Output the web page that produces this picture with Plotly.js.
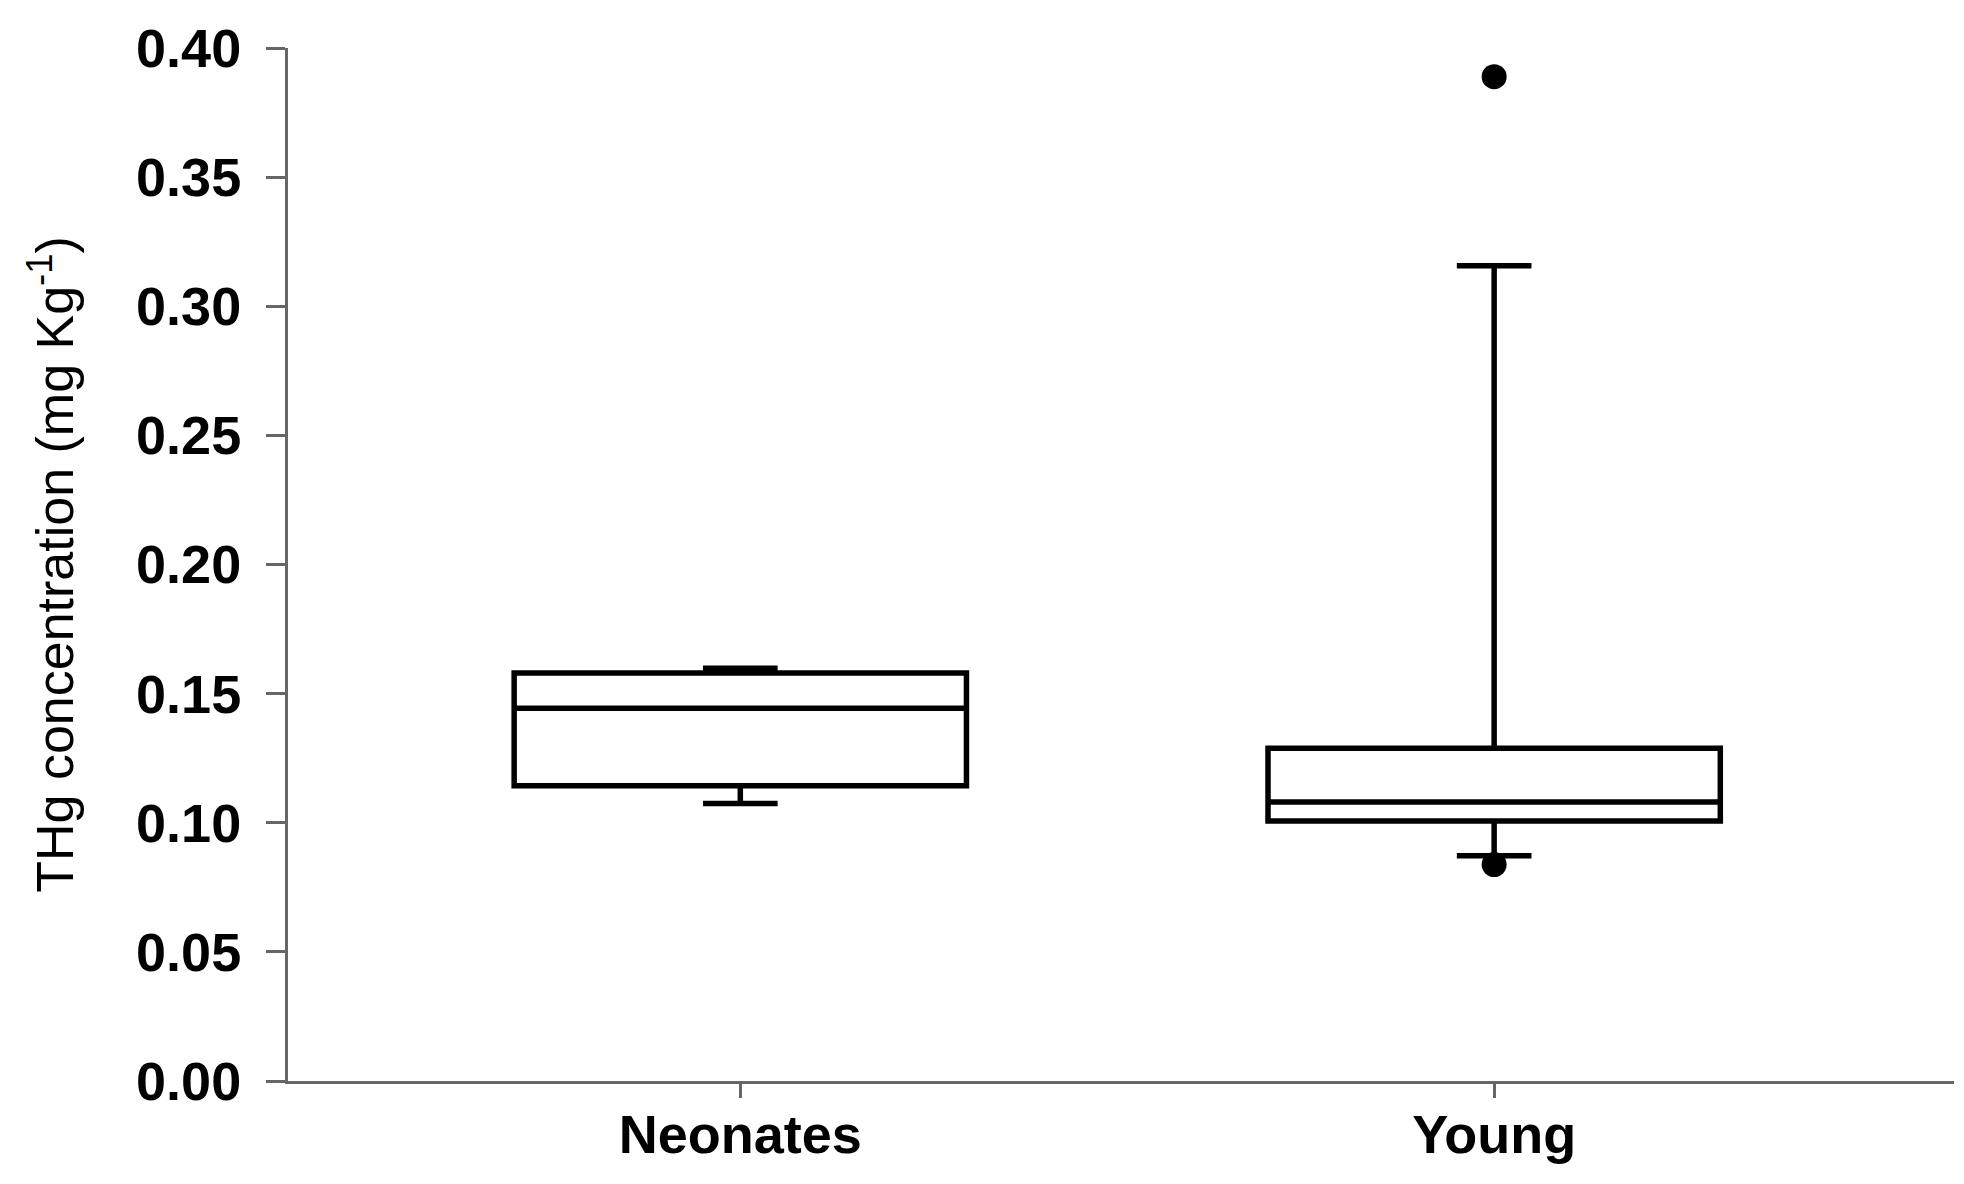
<!DOCTYPE html>
<html>
<head>
<meta charset="utf-8">
<script src="https://cdn.plot.ly/plotly-3.0.1.min.js"></script>
<style>
  html, body { margin: 0; padding: 0; background: #fff; }
  #chart { width: 1964px; height: 1184px; }
</style>
</head>
<body>
<div id="chart"></div>
<script>
// THg concentration by age class
const groups = ['Neonates', 'Young'];
const q1 = [0.1143, 0.1007];
const medians = [0.1443, 0.1080];
const q3 = [0.1580, 0.1288];
const lowerFence = [0.1075, 0.0872];
const upperFence = [0.1598, 0.3157];

// points beyond the whiskers
const outlierGroups = ['Young', 'Young'];
const outlierValues = [0.3889, 0.0838];

const yTicks = [0, 0.05, 0.10, 0.15, 0.20, 0.25, 0.30, 0.35, 0.40];

const boxTrace = {
    type: 'box',
    x: groups,
    q1: q1,
    median: medians,
    q3: q3,
    lowerfence: lowerFence,
    upperfence: upperFence,
    boxpoints: false,
    width: 0.6,
    whiskerwidth: 0.165,
    fillcolor: '#ffffff',
    line: { color: '#000000', width: 5.5 },
    hoverinfo: 'skip',
    showlegend: false
};

const outlierTrace = {
    type: 'scatter',
    mode: 'markers',
    x: outlierGroups,
    y: outlierValues,
    marker: { color: '#000000', size: 25 },
    hoverinfo: 'skip',
    showlegend: false
};

const labelFont = { family: '"Liberation Sans", Arial, sans-serif', size: 54, weight: 'bold', color: '#000000' };

const layout = {
    width: 1964,
    height: 1184,
    paper_bgcolor: '#ffffff',
    plot_bgcolor: '#ffffff',
    margin: { t: 48, r: 10, b: 103, l: 288 },
    font: { family: '"Liberation Sans", Arial, sans-serif', color: '#000000' },
    xaxis: {
        type: 'category',
        range: [-0.6, 1.61],
        showgrid: false,
        zeroline: false,
        showline: true,
        linecolor: '#666666',
        linewidth: 3,
        ticks: 'outside',
        ticklen: 14,
        tickwidth: 3,
        tickcolor: '#666666',
        ticklabelstandoff: -10,
        tickfont: labelFont
    },
    yaxis: {
        range: [0, 0.40],
        tickvals: yTicks,
        tickformat: '.2f',
        showgrid: false,
        zeroline: false,
        showline: true,
        linecolor: '#666666',
        linewidth: 3,
        ticks: 'outside',
        ticklen: 19,
        tickwidth: 3,
        tickcolor: '#666666',
        ticklabelstandoff: 14,
        tickfont: labelFont,
        title: {
            text: 'THg concentration (mg Kg<sup>-1</sup>)',
            font: { family: '"Liberation Sans", Arial, sans-serif', size: 52, color: '#000000' },
            standoff: 46
        }
    }
};

Plotly.newPlot('chart', [boxTrace, outlierTrace], layout, { displayModeBar: false, staticPlot: true });
</script>
</body>
</html>
